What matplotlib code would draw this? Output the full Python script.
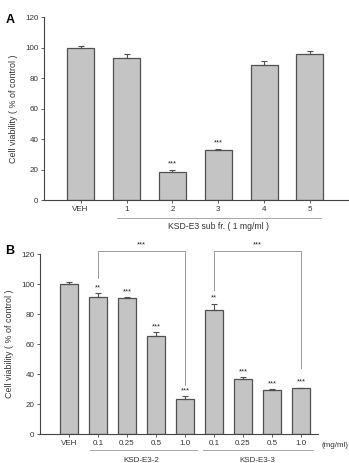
import numpy as np
import matplotlib.pyplot as plt

# panel A
a_labels = ['VEH', '1', '2', '3', '4', '5']
a_vals = [100, 93, 18.5, 32.5, 88.5, 95.5]
a_err = [1, 2.5, 1.5, 1.2, 2.5, 2]
a_sig = ['', '', '***', '***', '', '']

# panel B
b_labels = ['VEH', '0.1', '0.25', '0.5', '1.0', '0.1', '0.25', '0.5', '1.0']
b_vals = [100, 91.5, 91, 65.5, 23.5, 83, 37, 29.5, 30.5]
b_err = [1.5, 2.5, 0.5, 2.5, 1.8, 4, 1, 0.7, 0.5]
b_sig = ['', '**', '***', '***', '***', '**', '***', '***', '***']

plt.rcParams['font.family'] = ['Liberation Sans', 'DejaVu Sans']
bar_c = '#c4c4c4'
edge_c = '#505050'
fs = 5.8

fig = plt.figure(figsize=(3.49, 4.63), dpi=100)


def draw(ax, labels, vals, err, sig, width):
    x = np.arange(len(vals))
    ax.bar(x, vals, width=width, color=bar_c, edgecolor=edge_c, linewidth=0.9, zorder=2)
    ax.errorbar(x, vals, yerr=[np.zeros(len(err)), err], fmt='none', ecolor=edge_c,
                elinewidth=0.8, capsize=2, capthick=0.8, zorder=3)
    for xi, v, e, s in zip(x, vals, err, sig):
        if s:
            ax.text(xi, v + e + 1.2, s, ha='center', va='bottom', fontsize=5.3, color='#222222')
    ax.set_ylim(0, 120)
    ax.set_yticks(range(0, 121, 20))
    ax.set_xticks(x)
    ax.set_xticklabels(labels)
    ax.spines['top'].set_visible(False)
    ax.spines['right'].set_visible(False)
    for sp in ['left', 'bottom']:
        ax.spines[sp].set_color('#444444')
        ax.spines[sp].set_linewidth(0.8)
    ax.tick_params(labelsize=fs, length=2, width=0.6, color='#444444', labelcolor='#333333', pad=2)
    ax.set_ylabel('Cell viability ( % of control )', fontsize=6.4, color='#333333', labelpad=5)
    return x


axA = fig.add_axes([0.126, 0.568, 0.871, 0.395])
draw(axA, a_labels, a_vals, a_err, a_sig, 0.59)
axA.set_xlim(-0.8, 5.83)
axA.plot([0.79, 5.24], [-0.098 * 120, -0.098 * 120], color='#999999', lw=0.6, clip_on=False)
axA.text(3, -0.145 * 120, 'KSD-E3 sub fr. ( 1 mg/ml )', ha='center', va='center', fontsize=fs + 0.4,
         color='#333333')
fig.text(0.015, 0.957, 'A', fontsize=9, fontweight='bold', va='center')

axB = fig.add_axes([0.115, 0.0626, 0.797, 0.3888])
draw(axB, b_labels, b_vals, b_err, b_sig, 0.62)
axB.set_xlim(-1.0, 8.6)

# comparison brackets
br_c = '#9a9a9a'
for x0, x1, y0, y1 in [(1, 4, 104, 33), (5, 8, 96, 44)]:
    axB.plot([x0, x0, x1, x1], [y0, 122.2, 122.2, y1], color=br_c, lw=0.7, clip_on=False)
    axB.text((x0 + x1) / 2, 123.5, '***', ha='center', va='bottom', fontsize=5.3,
             color='#222222', clip_on=False)

yl = -0.09 * 120
axB.plot([0.73, 4.42], [yl, yl], color='#999999', lw=0.6, clip_on=False)
axB.plot([4.63, 8.43], [yl, yl], color='#999999', lw=0.6, clip_on=False)
axB.text(2.5, -0.145 * 120, 'KSD-E3-2', ha='center', va='center', fontsize=fs, color='#333333')
axB.text(6.5, -0.145 * 120, 'KSD-E3-3', ha='center', va='center', fontsize=fs, color='#333333')
axB.text(8.72, -0.062 * 120, '(mg/ml)', ha='left', va='center', fontsize=fs, color='#333333',
         clip_on=False)
fig.text(0.015, 0.458, 'B', fontsize=9, fontweight='bold', va='center')

fig.savefig('out.png', dpi=100)
